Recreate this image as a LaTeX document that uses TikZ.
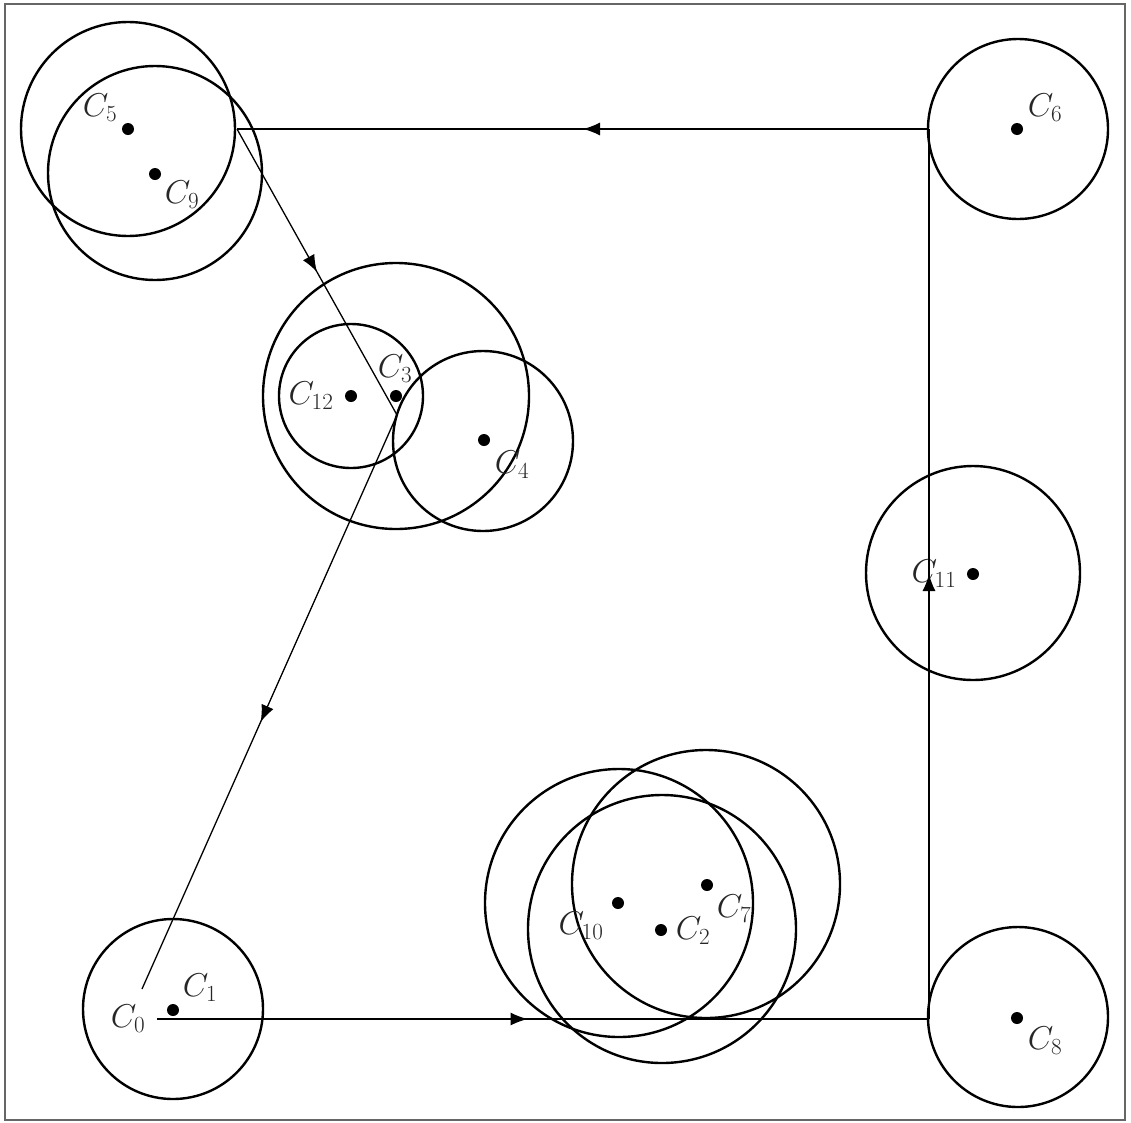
\RequirePackage{fix-cm}
\documentclass[tikz,border=0pt]{standalone}
\usetikzlibrary{arrows.meta,decorations.markings}
\tikzset{
  ring/.style={circle, draw=black, line width=2.4pt, inner sep=0pt, minimum size=#1},
  ctr/.style={circle, fill=black, inner sep=0pt, minimum size=12pt},
  lbl/.style={inner sep=0pt, text=black!85, font=\fontsize{33}{38}\selectfont},
  conn/.style={draw=black, line width=1.3pt},
  midarrow/.style={postaction={decorate}, decoration={markings,
      mark=at position #1 with {\arrow{Latex[length=17pt,width=13pt]}}}},
  frame/.style={draw=black!60, line width=2.5pt}
}
\begin{document}
\begin{tikzpicture}[x=1pt,y=-1pt]
\useasboundingbox (0,0) rectangle (1131,1122);
\draw[frame] (5,4) rectangle (1125,1120);

% circles
\node[ring=214pt] (r5) at (128,129) {};
\node[ring=214pt] (r9) at (155,173) {};
\node[ring=180pt] (r6) at (1018,129) {};
\node[ring=180pt] (r8) at (1018,1017) {};
\node[ring=214pt] (r11) at (973,573) {};
\node[ring=180pt] (r1) at (173,1009) {};
\node[ring=266pt] (r3) at (396,396) {};
\node[ring=144pt] (r12) at (351,396) {};
\node[ring=180pt] (r4) at (483,441) {};
\node[ring=268pt] (r10) at (619,903) {};
\node[ring=268pt] (r2) at (662,929) {};
\node[ring=268pt] (r7) at (706,884) {};

% centre dots
\node[ctr] (d5) at (128,129) {};
\node[ctr] (d9) at (155,174) {};
\node[ctr] (d6) at (1017,129) {};
\node[ctr] (d8) at (1017,1018) {};
\node[ctr] (d11) at (973,574) {};
\node[ctr] (d1) at (173,1010) {};
\node[ctr] (d12) at (351,396) {};
\node[ctr] (d3) at (396,396) {};
\node[ctr] (d4) at (484,440) {};
\node[ctr] (d10) at (618,903) {};
\node[ctr] (d2) at (661,930) {};
\node[ctr] (d7) at (707,885) {};

% labels
\node[lbl] (l5) at (100,108) {$C_5$};
\node[lbl] (l9) at (182,195) {$C_9$};
\node[lbl] (l6) at (1045,108) {$C_6$};
\node[lbl] (l8) at (1045,1041) {$C_8$};
\node[lbl] (l11) at (934,574) {$C_{11}$};
\node[lbl] (l1) at (200,988) {$C_1$};
\node[lbl] (l0) at (128,1019) {$C_0$};
\node[lbl] (l12) at (311,396) {$C_{12}$};
\node[lbl] (l3) at (395,369) {$C_3$};
\node[lbl] (l4) at (512,465) {$C_4$};
\node[lbl] (l10) at (581,926) {$C_{10}$};
\node[lbl] (l2) at (693,931) {$C_2$};
\node[lbl] (l7) at (734,909) {$C_7$};

% route points
\coordinate (p0) at (157,1019);
\coordinate (p8) at (929,1019);
\coordinate (p6) at (929,129);
\coordinate (p5) at (237,129);
\coordinate (p3) at (397,415);
\coordinate (pe) at (142,989);

\draw[conn, midarrow=0.48] (p0) -- (p8);
\draw[conn, midarrow=0.5] (p8) -- (p6);
\draw[conn, midarrow=0.5] (p6) -- (p5);
\draw[conn, midarrow=0.5] (p5) -- (p3);
\draw[conn, midarrow=0.535] (p3) -- (pe);
\end{tikzpicture}
\end{document}
